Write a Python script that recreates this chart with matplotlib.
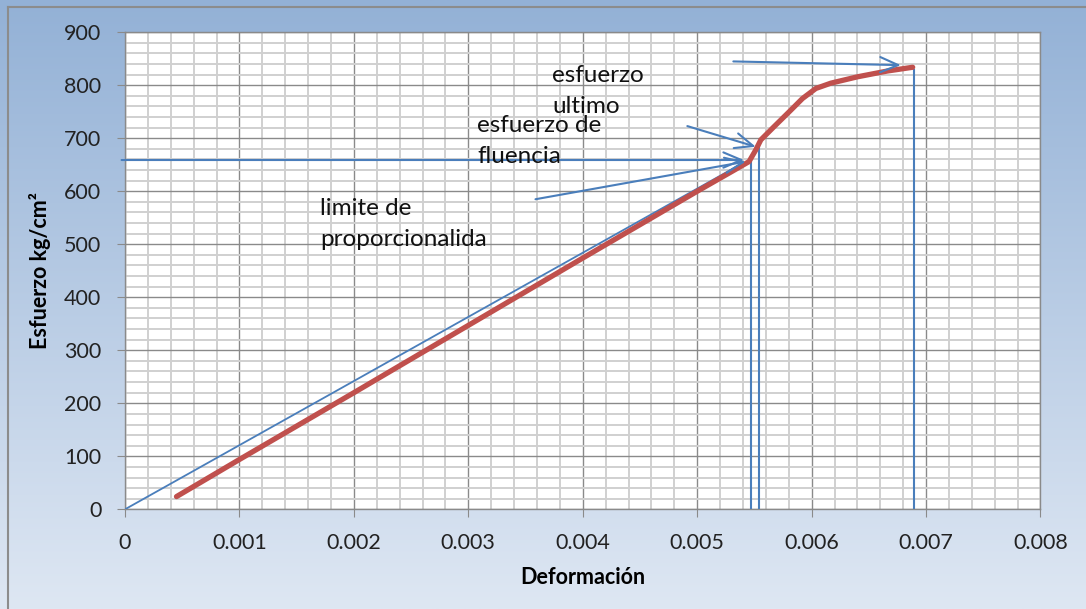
import matplotlib
matplotlib.use("Agg")
import matplotlib.pyplot as plt
import numpy as np

# curve
deformacion = [0.00045, 0.001, 0.002, 0.003, 0.004, 0.005, 0.0053, 0.005453, 0.005512,
               0.005556, 0.005672, 0.005818, 0.00592, 0.006037, 0.006168, 0.006401,
               0.006664, 0.006883]
esfuerzo = [24, 94, 220, 347, 474, 600, 637, 656, 678, 697, 722, 753, 775, 794, 804,
            816, 827, 834]

# hand drawn helper lines
recta_x = [0, 0.00538]
recta_y = [0, 651]
verticales_x = [0.005468, 0.005541, 0.006891]
verticales_top = [656, 684, 829]

# arrows: (start x, start y, end x, end y)
flechas = [
    (-0.00003, 659, 0.00541, 659),
    (0.003587, 585, 0.005424, 656),
    (0.004914, 723, 0.005512, 684),
    (0.005316, 845, 0.00678, 838),
]

# text lines (text, x, baseline y)
etiquetas = [
    ("esfuerzo", 0.003733, 807),
    ("ultimo", 0.003733, 748),
    ("esfuerzo de", 0.00308, 712),
    ("fluencia", 0.00308, 653),
    ("limite de", 0.001706, 555),
    ("proporcionalida", 0.001706, 496),
]

blue = '#4A7EBB'
red = '#C0504D'

fig = plt.figure(figsize=(10.86, 6.09), dpi=100)

# background gradient
bg = fig.add_axes([0, 0, 1, 1], zorder=-10)
top_c = np.array([147, 177, 214]) / 255
bot_c = np.array([222, 231, 243]) / 255
t = np.linspace(0, 1, 256)[:, None]
grad = top_c * (1 - t[..., None]) + bot_c * t[..., None]
grad = np.repeat(grad, 2, axis=1)
bg.imshow(grad, aspect='auto', extent=[0, 1, 0, 1], origin='upper')
bg.plot([0.0075, 0.0075], [0, 0.989], color='#8c8c8c', lw=1.5)
bg.plot([0.0075, 1], [0.989, 0.989], color='#8c8c8c', lw=1.5)
bg.set_xlim(0, 1)
bg.set_ylim(0, 1)
bg.axis('off')

ax = fig.add_axes([0.1151, 0.1637, 0.8430, 0.7833])
ax.set_facecolor('white')
ax.set_xlim(0, 0.008)
ax.set_ylim(0, 900)

ax.set_xticks(np.arange(0, 0.0081, 0.001))
ax.set_xticklabels(['0', '0.001', '0.002', '0.003', '0.004', '0.005', '0.006', '0.007', '0.008'])
ax.set_yticks(np.arange(0, 901, 100))
ax.set_xticks(np.arange(0, 0.0081, 0.0002), minor=True)
ax.set_yticks(np.arange(0, 901, 20), minor=True)
ax.grid(which='minor', color='#d0d0d0', lw=1.4, zorder=0)
ax.grid(which='major', color='#8a8a8a', lw=1.0, zorder=0)
ax.set_axisbelow(True)
ax.tick_params(which='minor', length=0)
ax.tick_params(which='major', length=6, color='#8a8a8a', direction='out',
               labelsize=15.5, labelcolor='#222222', pad=11)
for s in ax.spines.values():
    s.set_color('#8a8a8a')
    s.set_linewidth(1.0)

fam = ['Lato', 'DejaVu Sans']
for lab in ax.get_xticklabels() + ax.get_yticklabels():
    lab.set_family(fam)

ax.plot(recta_x, recta_y, color=blue, lw=1.3, zorder=3)
for x, yt in zip(verticales_x, verticales_top):
    ax.plot([x, x], [0, yt], color=blue, lw=1.5, zorder=3)

ax.plot(deformacion, esfuerzo, color=red, lw=3.8, solid_capstyle='round', zorder=4)

for x0, y0, x1, y1 in flechas:
    ax.annotate('', xy=(x1, y1), xytext=(x0, y0), annotation_clip=False,
                arrowprops=dict(arrowstyle='->,head_length=1.3,head_width=0.55',
                                color=blue, lw=1.5, shrinkA=0, shrinkB=0), zorder=5)

for txt, x, y in etiquetas:
    ax.text(x, y, txt, fontsize=17.5, family=fam, color='#111111', va='baseline',
            ha='left', zorder=6)

ax.set_xlabel('Deformación', fontsize=15.5, fontweight='bold', family=fam, va='center')
ax.set_ylabel('Esfuerzo kg/cm²', fontsize=15.5, fontweight='bold', family=fam, va='center')
ax.xaxis.set_label_coords(0.5, -0.144)
ax.yaxis.set_label_coords(-0.093, 0.5)

fig.savefig('out.png', dpi=100)
